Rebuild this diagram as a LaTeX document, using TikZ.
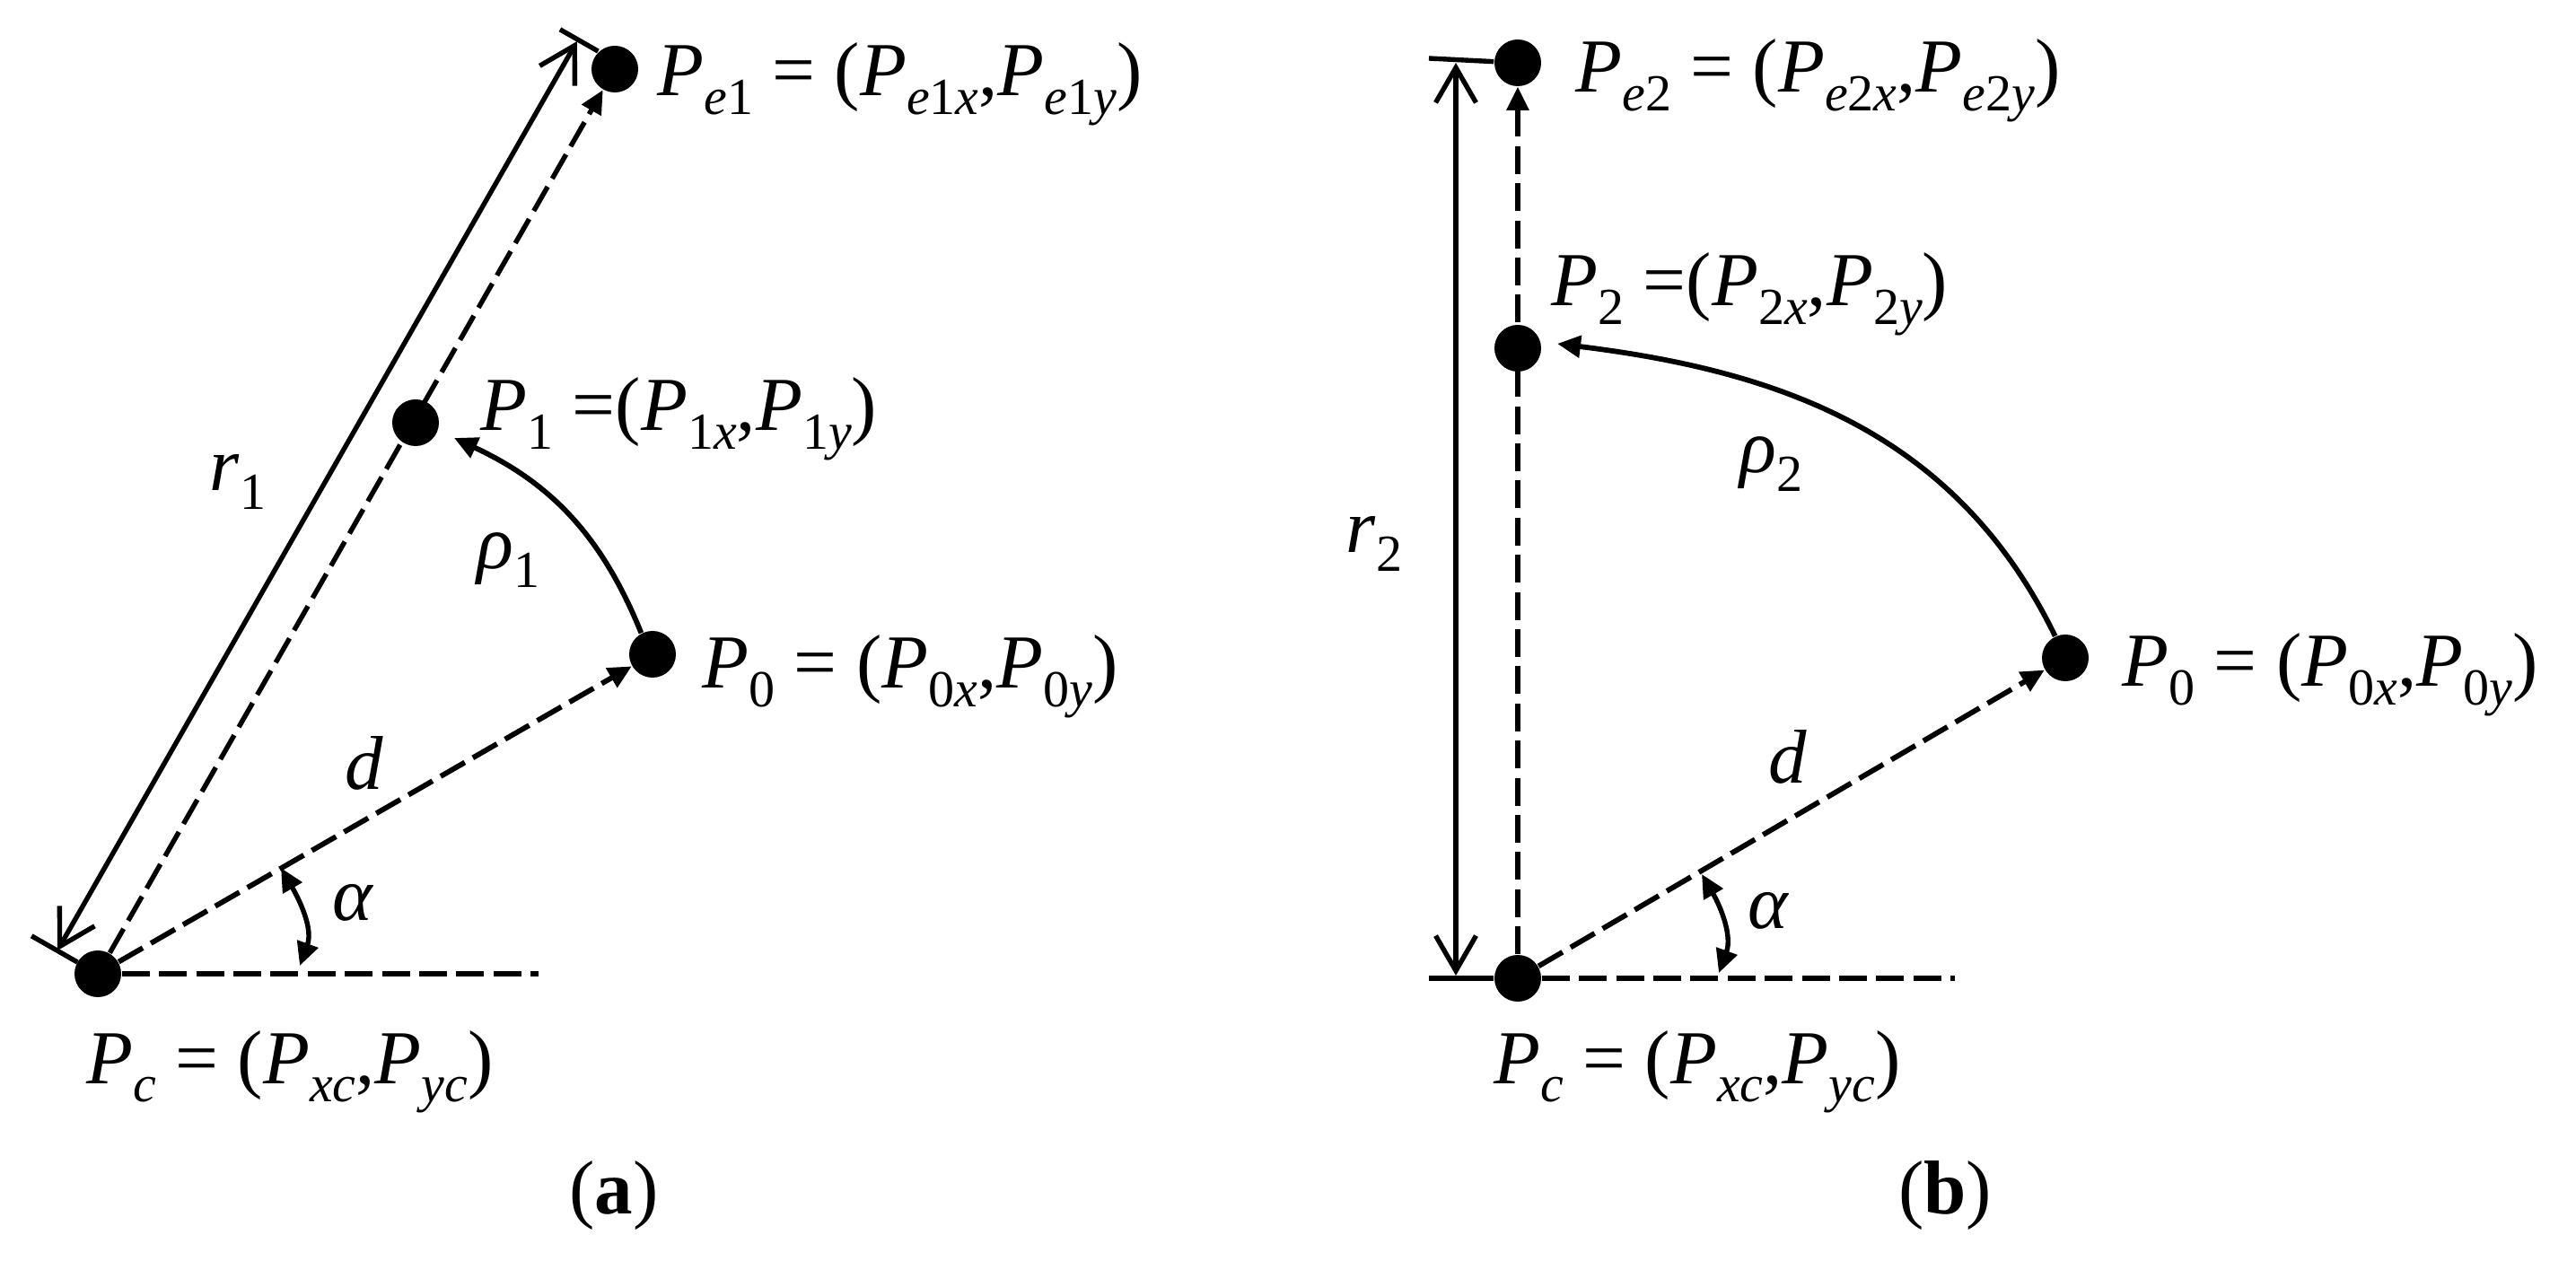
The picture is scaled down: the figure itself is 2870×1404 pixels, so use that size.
\documentclass[tikz,border=0pt]{standalone}
\usepackage{fontspec}
\setmainfont{Liberation Serif}[ItalicFont={Liberation Serif Italic},BoldFont={Liberation Serif Bold}]
\usetikzlibrary{arrows.meta,calc}
\newcommand{\Ss}[1]{\raisebox{-0.24em}{\fontsize{14.5}{15}\selectfont #1}}
\newcommand{\Pt}[1]{\textit{P}\Ss{#1}}
\begin{document}
\begin{tikzpicture}[x=0.25pt,y=0.25pt,
  dot/.style={circle,fill=black,inner sep=0pt,minimum size=13pt},
  lab/.style={inner sep=0pt,anchor=base west,font=\fontsize{21.25}{25}\selectfont},
  captext/.style={inner sep=0pt,anchor=base,font=\fontsize{21.25}{25}\selectfont},
  tip/.style={-{Triangle[length=6.5pt,width=6pt]}},
  dtip/.style={{Triangle[length=6.5pt,width=6pt]}-{Triangle[length=6.5pt,width=6pt]}},
  thickdash/.style={line width=1.45pt,dash pattern=on 7.75pt off 2.6pt},
  longdash/.style={line width=1.35pt,dash pattern=on 7.75pt off 2.6pt},
  dimline/.style={line width=1.35pt,{Straight Barb[length=9.75pt,width=11.25pt]}-{Straight Barb[length=9.75pt,width=11.25pt]}},
  tickline/.style={line width=1.35pt},
  rot/.style={line width=1.45pt,-{Triangle[length=6.5pt,width=6pt]}},
  ang/.style={line width=1.35pt,dtip}
]
\useasboundingbox (0,0) rectangle (2870,1404);

% ---------------- panel (a) ----------------
\node[dot] (Pca) at (109,319) {};
\node[dot] (P0a) at (727,675) {};
\node[dot] (P1a) at (463,933) {};
\node[dot] (Pe1a) at (685,1327) {};
\coordinate (Ha) at (600,319);
\draw[thickdash] (Pca) -- (Ha);
\draw[thickdash,tip] (Pca) -- (P0a);
\draw[longdash,tip] (Pca) -- (Pe1a);
% dimension r1
\coordinate (r1s) at (63.9,344.8);
\coordinate (r1e) at (642.9,1358);
\draw[dimline] (r1s) -- (r1e);
\coordinate (t1a) at (86.4,331.9);
\coordinate (t1b) at (35.2,361.2);
\coordinate (t2a) at (666.4,1346.9);
\coordinate (t2b) at (623.9,1371.2);
\draw[tickline] (t1a) -- (t1b);
\draw[tickline] (t2a) -- (t2b);
% angle alpha
\coordinate (aab) at (334,328);
\coordinate (aat) at (313,437);
\draw[ang] (aab) to[out=70,in=-60] (aat);
% rotation rho1
\coordinate (P1tip) at (506,916);
\draw[rot] (P0a.118) to[out=112,in=-25] (P1tip);
% labels
\node[lab] (LPe1a) at (732,1297) {\Pt{\textit{e}1} = (\Pt{\textit{e}1\textit{x}},\Pt{\textit{e}1\textit{y}})};
\node[lab] (LP1a) at (535,924) {\Pt{1} =(\Pt{1\textit{x}},\Pt{1\textit{y}})};
\node[lab] (LP0a) at (782,637) {\Pt{0} = (\Pt{0\textit{x}},\Pt{0\textit{y}})};
\node[lab] (LPca) at (96,197) {\Pt{\textit{c}} = (\Pt{\textit{xc}},\Pt{\textit{yc}})};
\node[lab] (Lr1) at (233,857) {\textit{r}\Ss{1}};
\node[lab] (Lrho1) at (531,770) {\textit{ρ}\Ss{1}};
\node[lab] (Lda) at (384,524) {\textit{d}};
\node[lab] (Lalpha) at (370,379) {\textit{α}};
\node[captext] (capa) at (684,52) {(\textbf{a})};

% ---------------- panel (b) ----------------
\node[dot] (Pcb) at (1691,314) {};
\node[dot] (P0b) at (2301,671) {};
\node[dot] (P2b) at (1691,1016) {};
\node[dot] (Pe2b) at (1691,1334) {};
\coordinate (Hb) at (2178,314);
\coordinate (Lb) at (1592,314);
\draw[thickdash] (Pcb) -- (Hb);
\draw[tickline] (Lb) -- (Pcb);
\draw[thickdash,tip] (Pcb) -- (P0b);
\draw[longdash,tip] (Pcb) -- (Pe2b);
% dimension r2
\coordinate (r2s) at (1622,317);
\coordinate (r2e) at (1622,1334);
\coordinate (Tb) at (1592,1339);
\draw[tickline] (Tb) -- (Pe2b);
\draw[dimline] (r2s) -- (r2e);
% angle alpha
\coordinate (abb) at (1915,320);
\coordinate (abt) at (1896,430);
\draw[ang] (abb) to[out=70,in=-60] (abt);
% rotation rho2
\coordinate (P2tip) at (1735,1021);
\draw[rot] (P0b.115) to[out=116,in=-7] (P2tip);
% labels
\node[lab] (LPe2b) at (1755,1301) {\Pt{\textit{e}2} = (\Pt{\textit{e}2\textit{x}},\Pt{\textit{e}2\textit{y}})};
\node[lab] (LP2b) at (1728,1063) {\Pt{2} =(\Pt{2\textit{x}},\Pt{2\textit{y}})};
\node[lab] (LP0b) at (2364,639) {\Pt{0} = (\Pt{0\textit{x}},\Pt{0\textit{y}})};
\node[lab] (LPcb) at (1664,197) {\Pt{\textit{c}} = (\Pt{\textit{xc}},\Pt{\textit{yc}})};
\node[lab] (Lr2) at (1499,788) {\textit{r}\Ss{2}};
\node[lab] (Lrho2) at (1938,877) {\textit{ρ}\Ss{2}};
\node[lab] (Ldb) at (1970,531) {\textit{d}};
\node[lab] (Lalphab) at (1947,369) {\textit{α}};
\node[captext] (capb) at (2167,52) {(\textbf{b})};
\end{tikzpicture}
\end{document}
